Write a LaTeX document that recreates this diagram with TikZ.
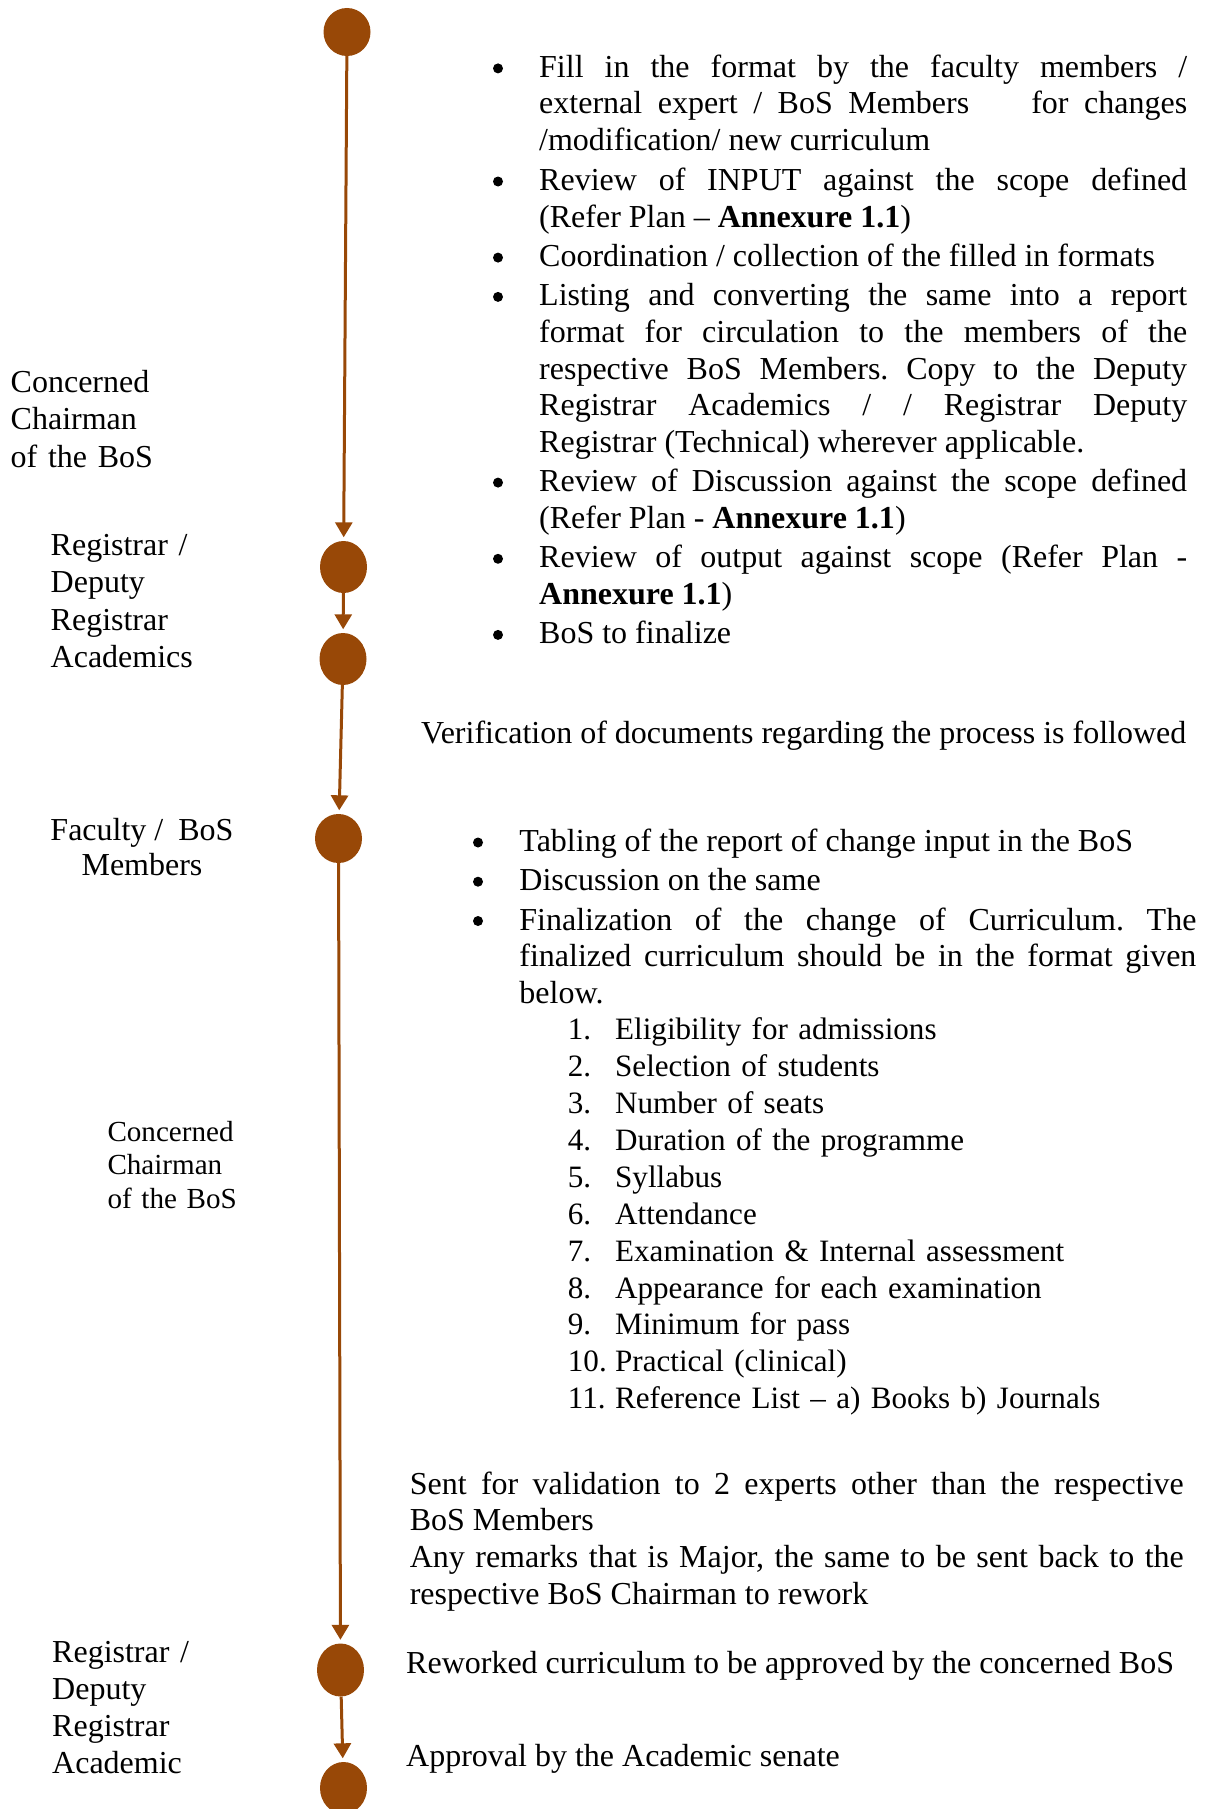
\documentclass[tikz,border=0pt]{standalone}
\usepackage{fontspec}
\setmainfont{Liberation Serif}
\usetikzlibrary{arrows.meta,shapes.geometric}
\definecolor{flowbrown}{RGB}{152,72,7}

\begin{document}
\frenchspacing
\tolerance=10000
\hyphenpenalty=10000
\parindent=0pt
\begin{tikzpicture}[x=1pt,y=-1pt,
  stage/.style={ellipse, fill=flowbrown, inner sep=0pt, minimum width=47pt, minimum height=#1},
  stage/.default=50pt,
  flow/.style={draw=flowbrown, line width=3pt, -{Triangle[width=17pt,length=15pt]}, shorten >=3.5pt},
  body/.style={inner sep=0pt, anchor=base west, font=\fontsize{32}{36.6}\selectfont},
  para/.style={body, text width=#1, align=justify},
  role/.style={inner sep=0pt, anchor=base west, text width=220pt, align=left,
    font=\fontsize{32}{37.3}\selectfont},
  dot/.style={circle, fill=black, inner sep=0pt, minimum size=10pt},
]
\useasboundingbox (0,0) rectangle (1208,1809);

% --- timeline stages ---
\node[stage=48pt] (c1) at (347,32) {};
\node[stage=52pt] (c2) at (343.5,567) {};
\node[stage=52pt] (c3) at (343,659) {};
\node[stage=49pt] (c4) at (338.5,838.5) {};
\node[stage=53pt] (c5) at (340.5,1670) {};
\node[stage=52pt] (c6) at (343.5,1788) {};

\draw[flow] (c1) -- (c2);
\draw[flow] (c2) -- (c3);
\draw[flow] (c3) -- (c4);
\draw[flow] (c4) -- (c5);
\draw[flow] (c5) -- (c6);

% --- responsible persons ---
\node[role] (r1) at (10.5,392.5) {Concerned\\Chairman\\of the BoS};
\node[role] (r2) at (50.5,555.5) {Registrar /\\Deputy\\Registrar\\Academics};
\node[role, anchor=base, align=center, font=\fontsize{32}{35}\selectfont] (r3) at (142,840.5)
  {Faculty\hspace{8pt}/\hspace{15pt}BoS\\Members};
\node[role, font=\fontsize{29.1}{33.8}\selectfont] (r4) at (107.3,1141) {Concerned\\Chairman\\of the BoS};
\node[role, font=\fontsize{32}{37}\selectfont] (r5) at (52,1662.5) {Registrar /\\Deputy\\Registrar\\Academic};

% --- first set of activities ---
\node[dot] (d11) at (498,68.4) {};
\node[para=648pt] (a11) at (539,77.4) {Fill in the format by the faculty members /\linebreak
  external expert / BoS Members~~~~for changes\linebreak /modification/ new curriculum};
\node[dot] (d12) at (498,181.5) {};
\node[para=648pt] (a12) at (539,190.5) {Review of INPUT against the scope defined\linebreak
  (Refer Plan – \textbf{Annexure 1.1})};
\node[dot] (d13) at (498,257.6) {};
\node[para=648pt] (a13) at (539,266.6) {Coordination / collection of the filled in formats};
\node[dot] (d14) at (498,296.9) {};
\node[para=648pt] (a14) at (539,305.9) {Listing and converting the same into a report\linebreak
  format for circulation to the members of the\linebreak
  respective BoS Members. Copy to the Deputy\linebreak
  Registrar Academics / / Registrar Deputy\linebreak
  Registrar (Technical) wherever applicable.};
\node[dot] (d15) at (498,482.6) {};
\node[para=648pt] (a15) at (539,491.6) {Review of Discussion against the scope defined\linebreak
  (Refer Plan - \textbf{Annexure 1.1})};
\node[dot] (d16) at (498,558.8) {};
\node[para=648pt] (a16) at (539,567.8) {Review of output against scope (Refer Plan -\linebreak
  \textbf{Annexure 1.1})};
\node[dot] (d17) at (498,634.9) {};
\node[para=648pt] (a17) at (539,643.9) {BoS to finalize};

\node[body] (v1) at (421,743) {Verification of documents regarding the process is followed};

% --- BoS meeting ---
\node[dot] (d21) at (478,842.5) {};
\node[para=677pt] (b21) at (519.2,851.5) {Tabling of the report of change input in the BoS};
\node[dot] (d22) at (478,881.7) {};
\node[para=677pt] (b22) at (519.2,890.7) {Discussion on the same};
\node[dot] (d23) at (478,921) {};
\node[para=677pt] (b23) at (519.2,930) {Finalization of the change of Curriculum. The\linebreak
  finalized curriculum should be in the format given\linebreak below.};

\node[body, text width=600pt, align=left, font=\fontsize{31.1}{36.92}\selectfont] (n1) at (567.7,1039.6) {%
  \makebox[47.3pt][l]{1.}Eligibility for admissions\\
  \makebox[47.3pt][l]{2.}Selection of students\\
  \makebox[47.3pt][l]{3.}Number of seats\\
  \makebox[47.3pt][l]{4.}Duration of the programme\\
  \makebox[47.3pt][l]{5.}Syllabus\\
  \makebox[47.3pt][l]{6.}Attendance\\
  \makebox[47.3pt][l]{7.}Examination \& Internal assessment\\
  \makebox[47.3pt][l]{8.}Appearance for each examination\\
  \makebox[47.3pt][l]{9.}Minimum for pass\\
  \makebox[47.3pt][l]{10.}Practical (clinical)\\
  \makebox[47.3pt][l]{11.}Reference List – a) Books b) Journals};

% --- validation and approval ---
\node[para=774pt] (e1) at (409.6,1494.2) {Sent for validation to 2 experts other than the respective\linebreak
  BoS Members\par
  Any remarks that is Major, the same to be sent back to the\linebreak
  respective BoS Chairman to rework};
\node[body] (e2) at (406,1673) {Reworked curriculum to be approved by the concerned BoS};
\node[body] (e3) at (406,1766.5) {Approval by the Academic senate};
\end{tikzpicture}
\end{document}
